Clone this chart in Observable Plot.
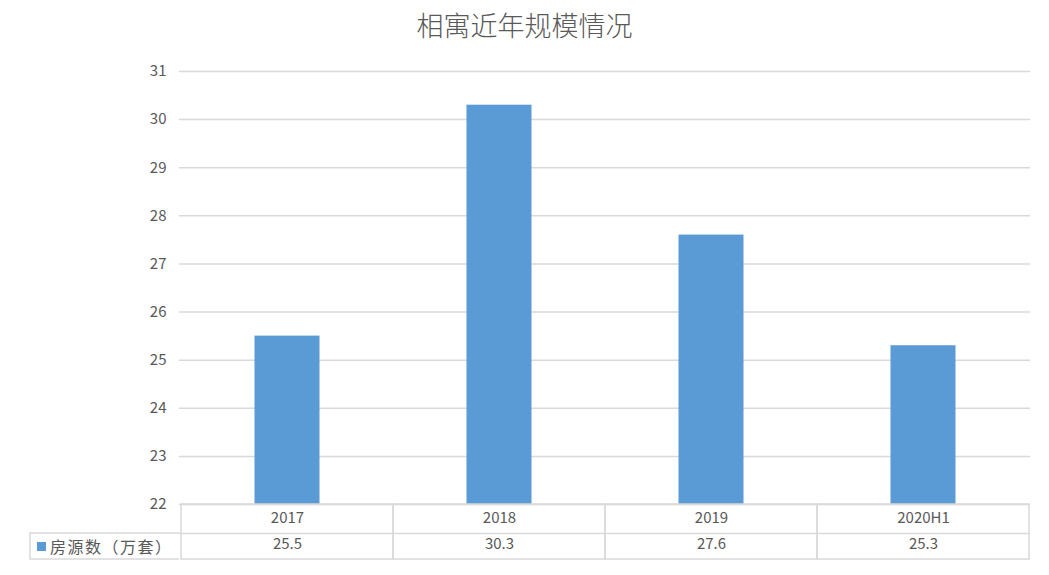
<!DOCTYPE html>
<html>
<head>
<meta charset="utf-8">
<script src="https://cdn.jsdelivr.net/npm/d3@7"></script>
<script src="https://cdn.jsdelivr.net/npm/@observablehq/plot@0.6"></script>
<style>
  body { margin: 0; background: #fff; font-family: "Noto Sans CJK SC", sans-serif; }
  #title { height: 50px; line-height: 50px; text-align: center; font-size: 27px; color: #595959; font-weight: 300; }
  #chart svg { display: block; }
</style>
</head>
<body>
<div id="title">相寓近年规模情况</div>
<div id="chart"></div>
<script>
const categories = ["2017", "2018", "2019", "2020H1"];
const values = [25.5, 30.3, 27.6, 25.3];
const yTicks = [22, 23, 24, 25, 26, 27, 28, 29, 30, 31];
const seriesName = "房源数（万套）";

const data = categories.map((c, i) => ({ category: c, value: values[i] }));
const gray = "#d9d9d9";
const textColor = "#595959";
const row1 = 29, row2 = 55;

const legendCell = (index, scales, values, dims) => {
  const g = d3.create("svg:g");
  const x0 = dims.marginLeft;
  const y0 = dims.height - dims.marginBottom;
  const left = 30;
  g.append("path")
    .attr("d", `M${x0},${y0 + row1}H${left}V${y0 + row2}H${x0}`)
    .attr("fill", "none").attr("stroke", gray).attr("stroke-width", 1.5);
  g.append("rect")
    .attr("x", left + 7).attr("y", y0 + row1 + 9).attr("width", 9).attr("height", 9)
    .attr("fill", "#5b9bd5");
  g.append("text")
    .attr("x", left + 20).attr("y", y0 + (row1 + row2) / 2 + 1)
    .attr("dy", "0.35em").attr("fill", textColor).attr("font-size", 16)
    .attr("text-anchor", "start")
    .attr("letter-spacing", "1.5px")
    .attr("font-family", "Noto Sans CJK SC")
    .text(seriesName);
  return g.node();
};

const plot = Plot.plot({
  width: 1049,
  height: 525,
  marginTop: 21,
  marginBottom: 71,
  marginLeft: 179,
  marginRight: 19,
  style: { fontFamily: "Noto Sans CJK SC, sans-serif", fontSize: "14px", color: textColor, overflow: "visible" },
  x: { domain: categories, padding: 0, axis: null },
  y: { domain: [22, 31], ticks: yTicks, label: null },
  marks: [
    Plot.ruleY(yTicks, { stroke: gray, strokeWidth: 1.5 }),
    Plot.axisY({ ticks: yTicks, tickSize: 0, tickPadding: 13, label: null, fill: textColor, fontSize: 15 }),
    Plot.barY(data, { x: "category", y1: 22, y2: "value", fill: "#5b9bd5", insetLeft: 73.5, insetRight: 73.5 }),
    Plot.barY(categories, { x: d => d, y1: 22, y2: 22, insetBottom: -row2, fill: "none", stroke: gray, strokeWidth: 1.5 }),
    Plot.ruleY([22], { dy: row1, stroke: gray, strokeWidth: 1.5 }),
    Plot.text(categories, { x: d => d, frameAnchor: "bottom", dy: row1 / 2 + 4, text: d => d, fill: textColor, fontSize: 15 }),
    Plot.text(data, { x: "category", frameAnchor: "bottom", dy: (row1 + row2) / 2 + 2, text: d => d.value.toFixed(1), fill: textColor, fontSize: 15 }),
    legendCell
  ]
});
document.getElementById("chart").appendChild(plot);
</script>
</body>
</html>
